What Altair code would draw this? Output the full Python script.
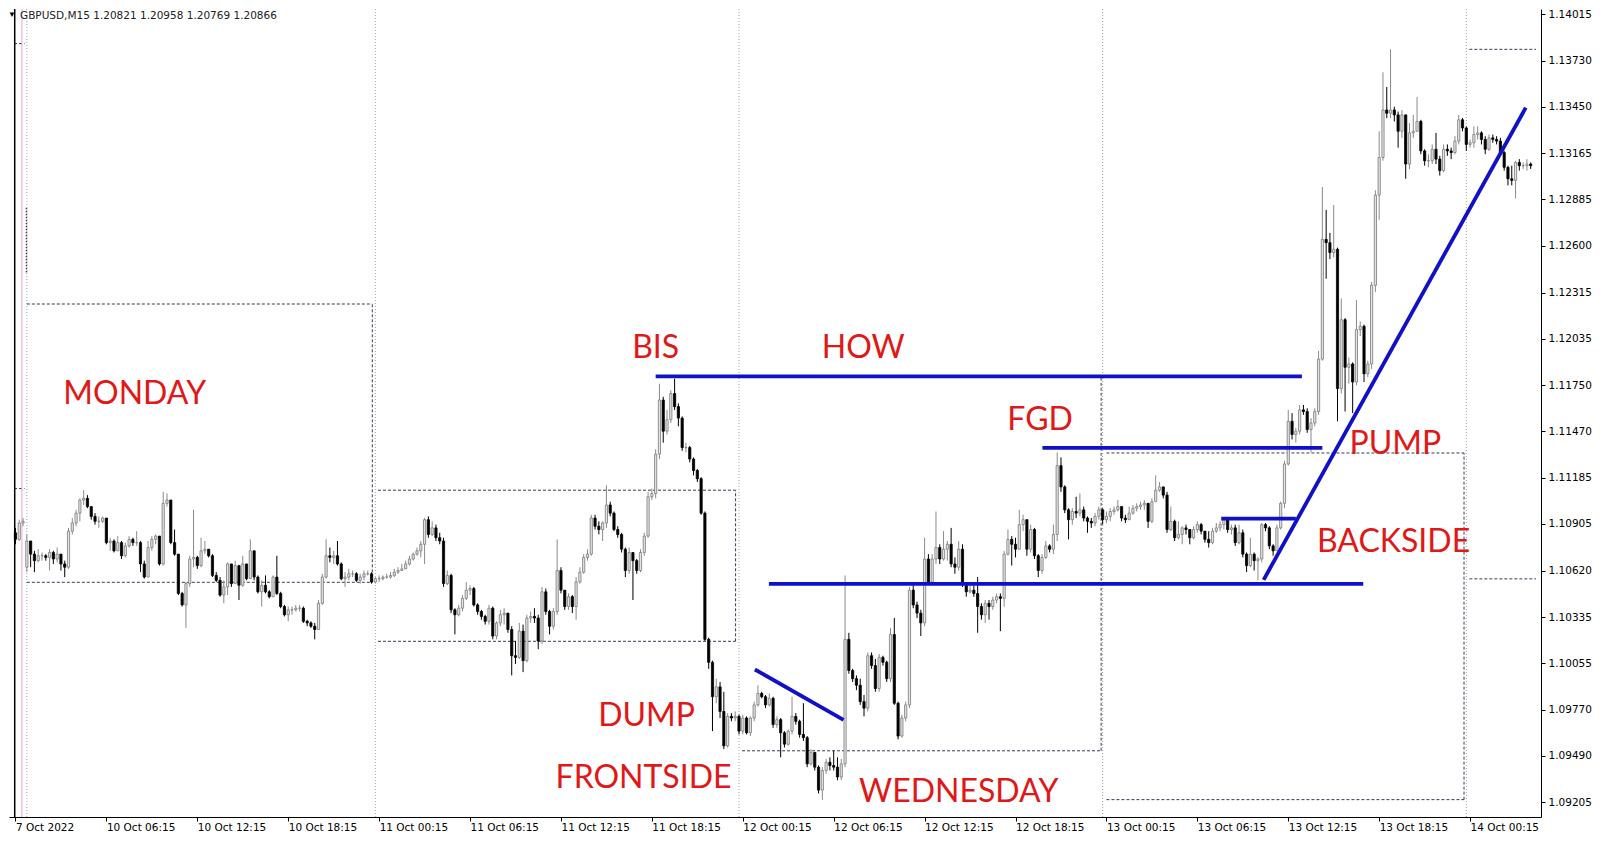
import altair as alt
import pandas as pd

# ---------------- candle data (prices in pips, 1e-4) ----------------
first_open = 11085
monday_open = 11064

fri7_close = [11081, 11091, 11092]
fri7_high = [11088, 11093, 11094]
fri7_low = [11078, 11080, 11089]

mon_close = [11080, 11072, 11068, 11071, 11071, 11070, 11073, 11069, 11072, 11066,
             11064, 11086, 11091, 11097, 11105, 11106, 11101, 11095, 11092, 11092,
             11094, 11079, 11080, 11074, 11079, 11071, 11077, 11081, 11079, 11079,
             11066, 11058, 11076, 11081, 11083, 11066, 11103, 11105, 11079, 11072,
             11048, 11041, 11054, 11069, 11070, 11065, 11074, 11075, 11071, 11059,
             11056, 11047, 11052, 11066, 11054, 11065, 11053, 11066, 11057, 11074,
             11058, 11049, 11053, 11049, 11046, 11058, 11048, 11040, 11035, 11038,
             11038, 11039, 11039, 11031, 11030, 11028, 11026, 11042, 11058, 11071,
             11070, 11071, 11066, 11057, 11058, 11060, 11060, 11056, 11058, 11060,
             11060, 11055]
mon_high = [11084, 11080, 11074, 11075, 11073, 11072, 11075, 11074, 11076, 11072,
            11068, 11088, 11094, 11099, 11106, 11111, 11108, 11101, 11097, 11095,
            11095, 11094, 11082, 11081, 11083, 11080, 11079, 11083, 11082, 11086,
            11080, 11068, 11080, 11083, 11084, 11083, 11110, 11109, 11105, 11087,
            11072, 11049, 11055, 11071, 11099, 11071, 11082, 11080, 11075, 11072,
            11061, 11058, 11056, 11067, 11066, 11068, 11065, 11071, 11066, 11081,
            11074, 11059, 11056, 11059, 11050, 11059, 11071, 11049, 11041, 11040,
            11040, 11041, 11041, 11040, 11032, 11031, 11030, 11044, 11060, 11081,
            11076, 11074, 11080, 11067, 11061, 11063, 11062, 11061, 11060, 11062,
            11062, 11061]
mon_low = [11061, 11064, 11061, 11067, 11068, 11068, 11062, 11066, 11067, 11062,
           11058, 11063, 11084, 11089, 11092, 11102, 11100, 11093, 11090, 11088,
           11091, 11078, 11074, 11073, 11074, 11069, 11070, 11076, 11077, 11077,
           11061, 11057, 11058, 11074, 11078, 11065, 11065, 11101, 11078, 11071,
           11047, 11040, 11027, 11052, 11064, 11063, 11064, 11072, 11070, 11058,
           11055, 11046, 11042, 11047, 11052, 11054, 11044, 11052, 11056, 11057,
           11056, 11048, 11040, 11048, 11045, 11047, 11047, 11039, 11034, 11031,
           11035, 11037, 11037, 11030, 11028, 11027, 11020, 11026, 11041, 11057,
           11067, 11066, 11065, 11056, 11052, 11056, 11058, 11055, 11054, 11056,
           11059, 11054]

tue_close = [11057, 11057, 11058, 11058, 11059, 11061, 11062, 11063, 11066, 11069,
             11072, 11074, 11078, 11093, 11084, 11088, 11082, 11080, 11054, 11059,
             11038, 11035, 11039, 11045, 11050, 11051, 11041, 11037, 11034, 11031,
             11039, 11022, 11030, 11035, 11036, 11026, 11010, 11009, 11025, 11007,
             11033, 11034, 11033, 11019, 11049, 11037, 11028, 11037, 11062, 11050,
             11040, 11046, 11040, 11055, 11061, 11070, 11072, 11094, 11089, 11087,
             11091, 11102, 11097, 11087, 11084, 11075, 11062, 11073, 11068, 11062,
             11073, 11083, 11107, 11109, 11133, 11166, 11147, 11154, 11170, 11162,
             11155, 11137, 11137, 11130, 11123, 11118, 11097, 11020, 11006, 10985,
             10991, 10976, 10955, 10973, 10972, 10973]
tue_high = [11058, 11059, 11059, 11060, 11061, 11063, 11064, 11066, 11068, 11071,
            11073, 11076, 11080, 11094, 11095, 11092, 11090, 11085, 11082, 11062,
            11060, 11039, 11041, 11047, 11055, 11053, 11052, 11042, 11038, 11035,
            11041, 11040, 11031, 11038, 11039, 11034, 11028, 11019, 11030, 11029,
            11035, 11037, 11039, 11035, 11052, 11051, 11038, 11039, 11081, 11064,
            11050, 11048, 11047, 11058, 11064, 11072, 11075, 11096, 11096, 11092,
            11092, 11114, 11104, 11098, 11089, 11085, 11076, 11076, 11073, 11069,
            11075, 11085, 11110, 11112, 11136, 11176, 11168, 11160, 11172, 11179,
            11164, 11156, 11140, 11138, 11131, 11124, 11119, 11098, 11021, 11007,
            10996, 10994, 10988, 10975, 10975, 10976]
tue_low = [11054, 11055, 11056, 11057, 11057, 11058, 11060, 11062, 11063, 11065,
           11068, 11071, 11070, 11066, 11082, 11083, 11080, 11078, 11052, 11053,
           11036, 11023, 11034, 11037, 11044, 11047, 11040, 11035, 11032, 11029,
           11029, 11020, 11020, 11028, 11029, 11024, 10998, 11005, 11008, 11000,
           11006, 11030, 11030, 11014, 11017, 11035, 11023, 11026, 11035, 11048,
           11038, 11038, 11036, 11032, 11054, 11060, 11068, 11071, 11087, 11084,
           11080, 11088, 11095, 11086, 11082, 11073, 11058, 11060, 11044, 11060,
           11061, 11071, 11082, 11105, 11106, 11130, 11140, 11145, 11152, 11160,
           11150, 11135, 11134, 11128, 11120, 11116, 11096, 11019, 11002, 10964,
           10981, 10972, 10953, 10954, 10970, 10970]

wed_close = [10964, 10972, 10963, 10972, 10980, 10987, 10985, 10980, 10984, 10968,
             10971, 10963, 10956, 10964, 10973, 10970, 10962, 10960, 10944, 10951,
             10942, 10928, 10940, 10945, 10943, 10942, 10936, 10944, 11020, 11001,
             10996, 10992, 10982, 10978, 11010, 11004, 10990, 11009, 11006, 10996,
             11023, 10981, 10961, 10972, 10980, 11050, 11041, 11036, 11030, 11069,
             11055, 11069, 11076, 11069, 11075, 11078, 11066, 11064, 11075, 11054,
             11049, 11050, 11048, 11040, 11035, 11042, 11040, 11044, 11046, 11045,
             11072, 11081, 11078, 11075, 11090, 11093, 11075, 11087, 11071, 11062,
             11070, 11077, 11075, 11084, 11126, 11113, 11099, 11093, 11098, 11097,
             11099, 11094, 11092, 11091, 11095, 11099]
wed_high = [10974, 10974, 10973, 10973, 10982, 10992, 10988, 10986, 10987, 10985,
            10973, 10972, 10964, 10965, 10985, 10975, 10971, 10981, 10961, 10953,
            10951, 10943, 10942, 10947, 10948, 10952, 10948, 10947, 11059, 11024,
            11002, 10998, 10996, 10986, 11012, 11012, 11008, 11011, 11010, 11007,
            11027, 11033, 10982, 10974, 10982, 11052, 11054, 11043, 11038, 11082,
            11072, 11072, 11098, 11078, 11086, 11080, 11088, 11070, 11080, 11078,
            11055, 11053, 11053, 11058, 11042, 11044, 11044, 11046, 11048, 11048,
            11074, 11087, 11083, 11082, 11099, 11096, 11093, 11090, 11088, 11072,
            11072, 11080, 11078, 11090, 11134, 11131, 11114, 11100, 11100, 11107,
            11109, 11101, 11095, 11094, 11097, 11101]
wed_low = [10962, 10962, 10962, 10961, 10970, 10979, 10984, 10978, 10979, 10966,
           10966, 10948, 10954, 10955, 10962, 10968, 10960, 10958, 10942, 10943,
           10940, 10926, 10922, 10938, 10940, 10940, 10934, 10934, 10942, 10999,
           10994, 10989, 10980, 10973, 10976, 11002, 10988, 10988, 11004, 10994,
           10994, 10980, 10959, 10960, 10970, 10978, 11039, 11033, 11022, 11028,
           11053, 11054, 11066, 11066, 11068, 11068, 11064, 11060, 11062, 11052,
           11046, 11048, 11046, 11024, 11032, 11030, 11032, 11038, 11042, 11025,
           11040, 11071, 11065, 11070, 11076, 11086, 11071, 11073, 11069, 11058,
           11060, 11069, 11073, 11072, 11080, 11110, 11097, 11081, 11090, 11094,
           11095, 11092, 11085, 11088, 11089, 11093]

thu_close = [11093, 11095, 11098, 11099, 11101, 11094, 11093, 11097, 11100, 11101,
             11102, 11103, 11092, 11104, 11111, 11113, 11108, 11087, 11092, 11082,
             11084, 11088, 11087, 11082, 11087, 11090, 11086, 11081, 11079, 11086,
             11088, 11090, 11093, 11087, 11088, 11079, 11085, 11072, 11065, 11072,
             11068, 11069, 11090, 11088, 11077, 11074, 11088, 11103, 11127, 11153,
             11145, 11147, 11160, 11159, 11148, 11152, 11159, 11191, 11264, 11262,
             11256, 11258, 11173, 11215, 11186, 11188, 11177, 11209, 11211, 11182,
             11188, 11236, 11291, 11314, 11343, 11341, 11343, 11340, 11330, 11340,
             11310, 11329, 11330, 11336, 11318, 11312, 11312, 11319, 11313, 11306,
             11319, 11318, 11317, 11324, 11337, 11332]
thu_high = [11100, 11098, 11100, 11101, 11105, 11101, 11096, 11101, 11102, 11103,
            11104, 11105, 11103, 11106, 11120, 11116, 11113, 11110, 11101, 11093,
            11092, 11089, 11090, 11087, 11089, 11092, 11091, 11086, 11086, 11088,
            11091, 11092, 11094, 11092, 11090, 11090, 11090, 11087, 11073, 11082,
            11073, 11070, 11091, 11091, 11089, 11078, 11090, 11104, 11129, 11160,
            11158, 11149, 11163, 11163, 11161, 11155, 11161, 11196, 11296, 11282,
            11268, 11285, 11259, 11228, 11216, 11192, 11189, 11227, 11214, 11212,
            11190, 11238, 11294, 11330, 11366, 11357, 11380, 11345, 11342, 11343,
            11332, 11335, 11340, 11351, 11337, 11319, 11316, 11322, 11329, 11315,
            11322, 11322, 11320, 11327, 11340, 11338]
thu_low = [11090, 11091, 11092, 11096, 11098, 11092, 11091, 11093, 11096, 11098,
           11099, 11099, 11088, 11091, 11104, 11110, 11106, 11085, 11086, 11080,
           11081, 11078, 11084, 11078, 11081, 11085, 11084, 11079, 11076, 11078,
           11085, 11086, 11087, 11085, 11084, 11077, 11078, 11070, 11061, 11064,
           11062, 11056, 11067, 11086, 11075, 11071, 11075, 11087, 11100, 11126,
           11142, 11140, 11145, 11157, 11146, 11134, 11150, 11157, 11190, 11240,
           11252, 11253, 11153, 11170, 11159, 11176, 11158, 11175, 11205, 11177,
           11180, 11185, 11232, 11276, 11312, 11338, 11338, 11336, 11320, 11326,
           11301, 11307, 11326, 11330, 11316, 11309, 11308, 11310, 11310, 11303,
           11305, 11315, 11313, 11316, 11322, 11330]

fri14_close = [11322, 11323, 11328, 11329, 11325, 11319, 11326, 11325, 11324, 11317,
               11308, 11301, 11300, 11311, 11309, 11309, 11310, 11309]
fri14_high = [11333, 11325, 11333, 11333, 11330, 11327, 11328, 11328, 11327, 11326,
              11318, 11309, 11309, 11312, 11313, 11311, 11313, 11311]
fri14_low = [11318, 11320, 11320, 11325, 11322, 11316, 11318, 11323, 11322, 11315,
             11306, 11297, 11297, 11289, 11306, 11307, 11306, 11307]

# axis ticks
price_ticks = [1.14015, 1.13730, 1.13450, 1.13165, 1.12885, 1.12600, 1.12315, 1.12035,
               1.11750, 1.11470, 1.11185, 1.10905, 1.10620, 1.10335, 1.10055, 1.09770,
               1.09490, 1.09205]
time_tick_bars = [0, 24, 48, 72, 96, 120, 144, 168, 192, 216, 240, 264, 288, 312, 336, 360, 384]
time_tick_labels = ["7 Oct 2022", "10 Oct 06:15", "10 Oct 12:15", "10 Oct 18:15",
                    "11 Oct 00:15", "11 Oct 06:15", "11 Oct 12:15", "11 Oct 18:15",
                    "12 Oct 00:15", "12 Oct 06:15", "12 Oct 12:15", "12 Oct 18:15",
                    "13 Oct 00:15", "13 Oct 06:15", "13 Oct 12:15", "13 Oct 18:15",
                    "14 Oct 00:15"]

# day separators (bar of each new day)
separator_bars = [3, 95, 191, 287, 383]

# previous-day range boxes: horizontal segments (bar from, bar to, price)
box_from = [-0.39, -0.39, 3, 3, 95.7, 95.7, 191.8, 191.8, 288, 288, 383.8, 383.8]
box_to = [2.4, 2.4, 94.2, 94.2, 190.1, 190.1, 286.6, 286.6, 382.4, 382.4, 401.4, 401.4]
box_level = [1.13835, 1.11120, 1.12246, 1.10548, 1.11110, 1.10188, 1.11800, 1.09520,
             1.11337, 1.09222, 1.13800, 1.10569]
# right edges of the boxes (bar, low price, high price)
edge_bar = [94.2, 190.1, 286.6, 382.4]
edge_low = [1.10548, 1.10188, 1.09520, 1.09222]
edge_high = [1.12246, 1.11110, 1.11800, 1.11337]

# blue drawn lines (bar1, price1, bar2, price2)
line_b1 = [169.0, 271.1, 198.9, 318.3, 329.5, 195.2]
line_p1 = [1.11804, 1.11368, 1.10538, 1.10937, 1.10563, 1.10016]
line_b2 = [339.6, 345.0, 355.8, 338.0, 398.7, 218.6]
line_p2 = [1.11804, 1.11368, 1.10538, 1.10937, 1.13444, 1.09709]

# red labels
ann_text = ["MONDAY", "BIS", "HOW", "FGD", "PUMP", "BACKSIDE", "DUMP", "FRONTSIDE", "WEDNESDAY"]
ann_bar = [31.5, 169.0, 223.8, 270.5, 364.3, 363.8, 166.6, 165.8, 249.0]
ann_price = [1.11638, 1.11915, 1.11915, 1.11475, 1.11331, 1.10735, 1.09669, 1.09290, 1.09206]

# ---------------- build table ----------------
closes = fri7_close + mon_close + tue_close + wed_close + thu_close + fri14_close
highs = fri7_high + mon_high + tue_high + wed_high + thu_high + fri14_high
lows = fri7_low + mon_low + tue_low + wed_low + thu_low + fri14_low
opens = [first_open] + closes[:-1]
opens[3] = monday_open

rows = []
for i, (o, h, l, c) in enumerate(zip(opens, highs, lows, closes)):
    hh = max(h, o, c)
    ll = min(l, o, c)
    rows.append({"x": i, "o": o / 1e4, "h": hh / 1e4, "l": ll / 1e4, "c": c / 1e4,
                 "dir": "up" if c >= o else "down"})
candles = pd.DataFrame(rows)

xscale = alt.Scale(domain=[-0.39, 401.4], nice=False, zero=False)
yscale = alt.Scale(domain=[1.09116, 1.14046], nice=False, zero=False)

label_expr = ""
for b, t in zip(time_tick_bars, time_tick_labels):
    label_expr += f"datum.value == {b} ? '{t}' : "
label_expr += "''"

xaxis = alt.Axis(values=time_tick_bars, labelExpr=label_expr, labelAlign="left",
                 labelPadding=1, tickSize=4, labelOverlap=False, labelFlush=False,
                 labelBound=False, grid=False, title=None, orient="bottom")
yaxis = alt.Axis(values=price_ticks, format=".5f", orient="right", tickSize=4,
                 labelPadding=3, labelOverlap=False, labelFlush=False, grid=False, title=None)


def X(f):
    return alt.X(f"{f}:Q", scale=xscale, axis=xaxis, title=None)


def Y(f):
    return alt.Y(f"{f}:Q", scale=yscale, axis=yaxis, title=None)


seps = alt.Chart(pd.DataFrame({"x": separator_bars})).mark_rule(
    color="#a0a0a0", strokeDash=[1, 2], strokeWidth=1).encode(x=X("x"))

boxes = alt.Chart(pd.DataFrame({"x": box_from, "x2": box_to, "y": box_level})).mark_rule(
    color="#3a3a55", strokeDash=[3, 2], strokeWidth=1).encode(x=X("x"), x2="x2:Q", y=Y("y"))

edges = alt.Chart(pd.DataFrame({"x": edge_bar, "y": edge_low, "y2": edge_high})).mark_rule(
    color="#3a3a55", strokeDash=[3, 2], strokeWidth=1).encode(x=X("x"), y=Y("y"), y2="y2:Q")

misc_v = alt.Chart(pd.DataFrame({"x": [-0.2]})).mark_rule(color="#000000", strokeWidth=1.5).encode(x=X("x"))
pink = alt.Chart(pd.DataFrame({"x": [1.7]})).mark_rule(color="#e0a8d8", strokeWidth=1).encode(x=X("x"))
dots = alt.Chart(pd.DataFrame({"x": [2.9], "y": [1.12440], "y2": [1.12840]})).mark_rule(
    color="#000000", strokeDash=[1, 2], strokeWidth=1.5).encode(x=X("x"), y=Y("y"), y2="y2:Q")

wicks = alt.Chart(candles).mark_rule(strokeWidth=1).encode(
    x=X("x"), y=Y("l"), y2="h:Q",
    color=alt.Color("dir:N", scale=alt.Scale(domain=["up", "down"], range=["#8a8a8a", "#000000"]), legend=None))

bodies = alt.Chart(candles).mark_bar(size=2.2, strokeWidth=0.8).encode(
    x=X("x"), y=Y("o"), y2="c:Q",
    fill=alt.Fill("dir:N", scale=alt.Scale(domain=["up", "down"], range=["#e4e4e4", "#000000"]), legend=None),
    stroke=alt.Stroke("dir:N", scale=alt.Scale(domain=["up", "down"], range=["#7a7a7a", "#000000"]), legend=None))

blue = alt.Chart(pd.DataFrame({"x": line_b1, "y": line_p1, "x2": line_b2, "y2": line_p2})).mark_rule(
    color="#1010c8", strokeWidth=3.8).encode(x=X("x"), y=Y("y"), x2="x2:Q", y2="y2:Q")

labels = alt.Chart(pd.DataFrame({"x": ann_bar, "y": ann_price, "t": ann_text})).mark_text(
    font="Lato", fontSize=32, color="#e01818", align="center", baseline="alphabetic").encode(
    x=X("x"), y=Y("y"), text="t:N")

title_df = pd.DataFrame({"t": ["GBPUSD,M15  1.20821 1.20958 1.20769 1.20866"]})
title = alt.Chart(title_df).mark_text(font="DejaVu Sans", fontSize=10.5, color="#222222",
                                      align="left", baseline="middle").encode(
    x=alt.value(11), y=alt.value(7), text="t:N")
tri = alt.Chart(pd.DataFrame({"t": ["▼"]})).mark_text(fontSize=8, color="#000000",
                                                      align="center", baseline="middle").encode(
    x=alt.value(3), y=alt.value(6), text="t:N")

chart = alt.layer(seps, boxes, edges, misc_v, pink, dots, wicks, bodies, blue, labels, title, tri).properties(
    width=1532, height=808, padding=0
).configure_view(stroke=None).configure_axis(
    domainColor="#000000", tickColor="#000000", labelColor="#000000",
    labelFont="DejaVu Sans", labelFontSize=10.5, domainWidth=1, tickWidth=1
)

chart.save("out.html", embed_options={"renderer": "svg", "actions": False})
